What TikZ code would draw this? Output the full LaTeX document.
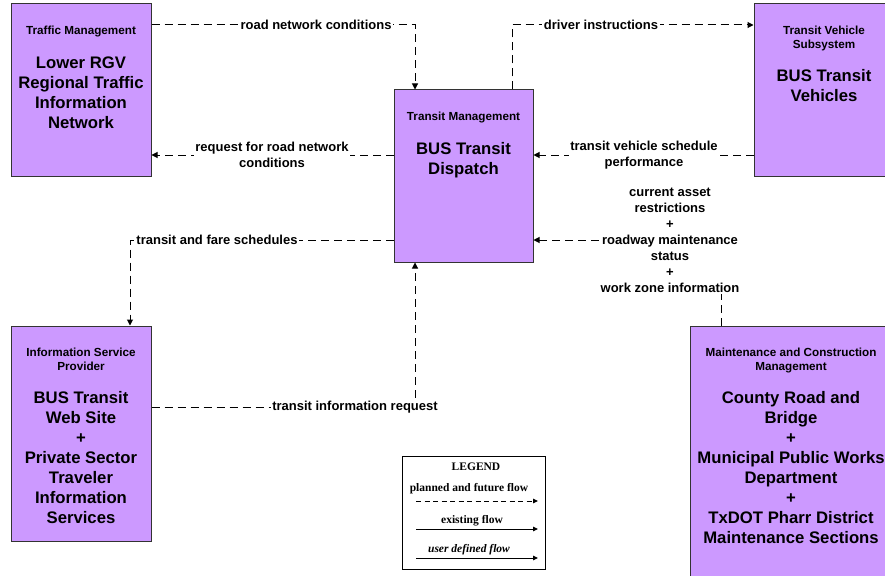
\documentclass[tikz,border=0pt]{standalone}
\usepackage{fontspec}
\setmainfont{Liberation Sans}
\newfontfamily\legendfont{Liberation Serif}
\usetikzlibrary{positioning,arrows.meta}
\definecolor{sysfill}{HTML}{CC99FF}

\begin{document}
\begin{tikzpicture}[x=1pt, y=-1pt]
    \tikzset{
        sysbox/.style={
            draw=black!80, fill=sysfill, line width=1pt,
            inner sep=0pt
        },
        headtxt/.style={
            inner sep=0pt, align=center,
            font=\fontsize{11.7}{14}\selectfont\bfseries
        },
        bodytxt/.style={
            inner sep=0pt, align=center,
            font=\fontsize{16.7}{20}\selectfont\bfseries
        },
        flow/.style={
            line width=1pt, dash pattern=on 8pt off 5pt,
            -{Triangle[length=6pt,width=6pt]}
        },
        flowlabel/.style={
            fill=white, inner sep=1.5pt, align=center,
            font=\fontsize{13}{16}\selectfont\bfseries
        },
        legendtxt/.style={
            inner sep=0pt,
            font=\fontsize{11.5}{14}\selectfont\legendfont\bfseries
        },
        legendline/.style={
            line width=1pt, -{Triangle[length=5pt,width=4.5pt]}
        },
    }

    \useasboundingbox (0,0) rectangle (885,575);
    \clip (0,0) rectangle (885,575);

    % ==== Subsystem boxes ====
    \node[sysbox, minimum width=140pt, minimum height=172pt] (trf) at (81,90) {};
    \node[sysbox, minimum width=139pt, minimum height=172pt] (tm) at (463.5,176) {};
    \node[sysbox, minimum width=140pt, minimum height=172pt] (tv) at (824,90) {};
    \node[sysbox, minimum width=140pt, minimum height=215pt] (isp) at (81,433.5) {};
    \node[sysbox, minimum width=202pt, minimum height=270pt] (mc) at (791,461) {};

    % ==== Box texts ====
    \node[headtxt, below=22pt of trf.north] (trf-head) {Traffic Management};
    \node[bodytxt, below=53pt of trf.north] (trf-body)
        {Lower RGV\\Regional Traffic\\Information\\Network};

    \node[headtxt, below=22pt of tm.north] (tm-head) {Transit Management};
    \node[bodytxt, below=53pt of tm.north] (tm-body) {BUS Transit\\Dispatch};

    \node[headtxt, below=22pt of tv.north] (tv-head) {Transit Vehicle\\Subsystem};
    \node[bodytxt, below=66pt of tv.north] (tv-body) {BUS Transit\\Vehicles};

    \node[headtxt, below=22pt of isp.north] (isp-head)
        {Information Service\\Provider};
    \node[bodytxt, below=66pt of isp.north] (isp-body)
        {BUS Transit\\Web Site\\+\\Private Sector\\Traveler\\Information\\Services};

    \node[headtxt, below=22pt of mc.north] (mc-head)
        {Maintenance and Construction\\Management};
    \node[bodytxt, below=66pt of mc.north] (mc-body)
        {County Road and\\Bridge\\+\\Municipal Public Works\\Department\\+\\TxDOT Pharr District\\Maintenance Sections};

    % ==== Flows ====
    \draw[flow] (trf.east |- 0,25) -| (tm.north -| 415,0);
    \draw[flow] (tm.west |- 0,155) -- (trf.east |- 0,155);
    \draw[flow] (tm.north -| 512,0) |- (tv.west |- 0,25);
    \draw[flow] (tv.west |- 0,155) -- (tm.east |- 0,155);
    \draw[flow] (tm.west |- 0,240) -| (isp.north -| 130,0);
    \draw[flow] (isp.east |- 0,407) -| (tm.south -| 415,0);
    \draw[flow] (mc.north -| 721,0) |- (tm.east |- 0,240);

    % ==== Flow labels ====
    \node[flowlabel] (l-road) at (316,25) {road network conditions};
    \node[flowlabel] (l-req) at (272,155) {request for road network\\conditions};
    \node[flowlabel] (l-drv) at (601,25) {driver instructions};
    \node[flowlabel] (l-perf) at (644,155) {transit vehicle schedule\\performance};
    \node[flowlabel] (l-fare) at (217,240) {transit and fare schedules};
    \node[flowlabel] (l-info) at (355,407) {transit information request};
    \node[flowlabel] (l-maint) at (670,240)
        {current asset\\restrictions\\+\\roadway maintenance\\status\\+\\work zone information};

    % ==== Legend ====
    \node[draw, line width=1pt, minimum width=143pt, minimum height=113pt,
        inner sep=0pt] (lgd) at (473.5,512.5) {};
    \node[legendtxt] (lgd-title) at (476,467) {LEGEND};
    \node[legendtxt] (lgd-plan) at (469,489) {planned and future flow};
    \node[legendtxt] (lgd-exist) at (472,521) {existing flow};
    \node[legendtxt, font=\fontsize{11.5}{14}\selectfont\legendfont\bfseries\itshape]
        (lgd-user) at (469,550) {user defined flow};
    \coordinate (lp-a) at (416,501);
    \coordinate (lp-b) at (538,501);
    \coordinate (le-a) at (416,529);
    \coordinate (le-b) at (538,529);
    \coordinate (lu-a) at (416,558);
    \coordinate (lu-b) at (538,558);
    \draw[legendline, dash pattern=on 5pt off 3.5pt] (lp-a) -- (lp-b);
    \draw[legendline] (le-a) -- (le-b);
    \draw[legendline] (lu-a) -- (lu-b);
\end{tikzpicture}
\end{document}
